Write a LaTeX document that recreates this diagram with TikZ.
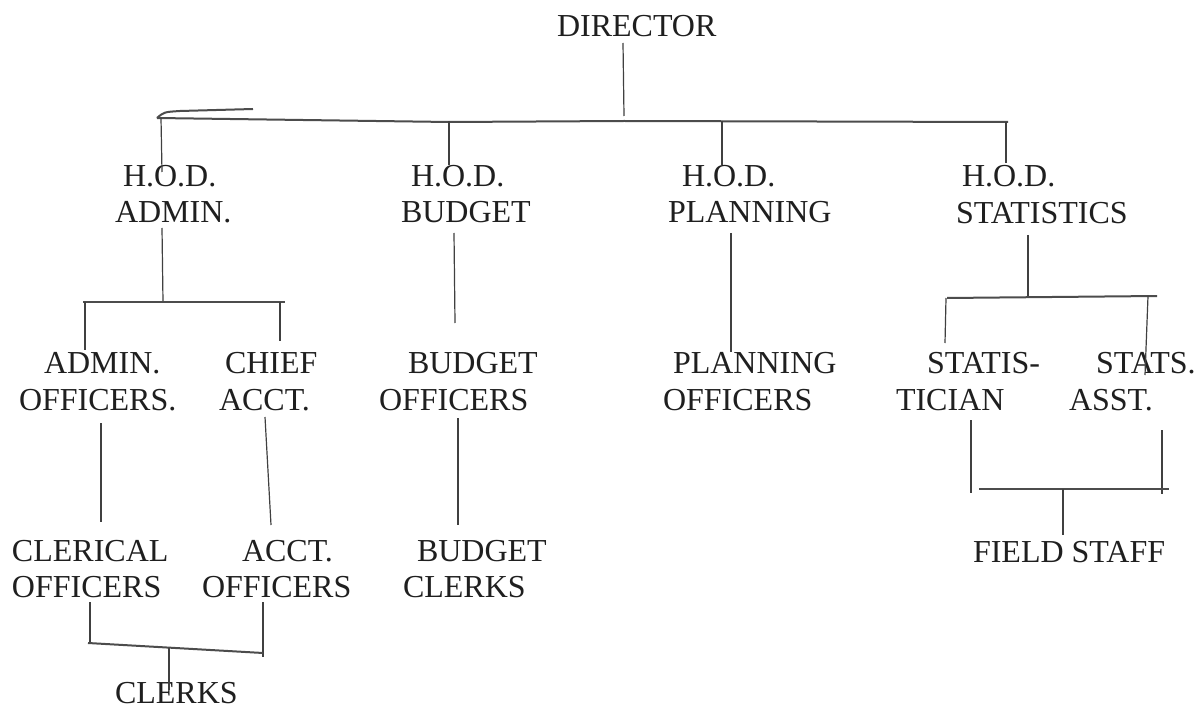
\documentclass[tikz,border=0pt]{standalone}
\usepackage{fontspec}
\setmainfont{Liberation Serif}
\begin{document}
\begin{tikzpicture}[x=1pt,y=-1pt,
  lbl/.style={anchor=base west,inner sep=0pt,outer sep=0pt,font=\fontsize{32}{36}\selectfont,text=black!88},
  vline/.style={draw=black!75,line width=1.2pt},
  hbar/.style={draw=black!70,line width=2pt}]
\useasboundingbox[fill=white] (0,0) rectangle (1204,711);
% texts
\node[lbl] (dir) at (557,37) {DIRECTOR};
\node[lbl] (hadmA) at (123,187) {H.O.D.};
\node[lbl] (hadmB) at (115,223) {ADMIN.};
\node[lbl] (hbudA) at (411,187) {H.O.D.};
\node[lbl] (hbudB) at (401,223) {BUDGET};
\node[lbl] (hplaA) at (682,187) {H.O.D.};
\node[lbl] (hplaB) at (668,223) {PLANNING};
\node[lbl] (hstaA) at (962,187) {H.O.D.};
\node[lbl] (hstaB) at (956,224) {STATISTICS};
\node[lbl] (aoA) at (44,373) {ADMIN.};
\node[lbl] (aoB) at (19,410) {OFFICERS.};
\node[lbl] (caA) at (225,373) {CHIEF};
\node[lbl] (caB) at (219,410) {ACCT.};
\node[lbl] (boA) at (408,373) {BUDGET};
\node[lbl] (boB) at (379,410) {OFFICERS};
\node[lbl] (poA) at (673,373) {PLANNING};
\node[lbl] (poB) at (663,410) {OFFICERS};
\node[lbl] (stA) at (927,373) {STATIS-};
\node[lbl] (stB) at (896,410) {TICIAN};
\node[lbl] (saA) at (1096,373) {STATS.};
\node[lbl] (saB) at (1069,410) {ASST.};
\node[lbl] (coA) at (12,561) {CLERICAL};
\node[lbl] (coB) at (12,597) {OFFICERS};
\node[lbl] (acA) at (242,561) {ACCT.};
\node[lbl] (acB) at (202,597) {OFFICERS};
\node[lbl] (bcA) at (417,561) {BUDGET};
\node[lbl] (bcB) at (403,597) {CLERKS};
\node[lbl] (fs) at (973,562) {FIELD STAFF};
\node[lbl] (clk) at (115,703) {CLERKS};
% junction coordinates
\coordinate (d1) at (623,43);
\coordinate (d2) at (624,116);
\coordinate (tL) at (157,118);
\coordinate (tR) at (1008,122);
\coordinate (v1a) at (161,118); \coordinate (v1b) at (162,172);
\coordinate (v2a) at (449,121); \coordinate (v2b) at (449,165);
\coordinate (v3a) at (722,121); \coordinate (v3b) at (722,165);
\coordinate (v4a) at (1006,122); \coordinate (v4b) at (1006,163);
% admin branch
\coordinate (ad1) at (162,228); \coordinate (ad2) at (163,302);
\coordinate (abL) at (83,302); \coordinate (abR) at (285,302);
\coordinate (ao1) at (85,302); \coordinate (ao2) at (85,350);
\coordinate (ca1) at (280,302); \coordinate (ca2) at (280,341);
\coordinate (ao3) at (101,423); \coordinate (ao4) at (101,522);
\coordinate (ca3) at (265,417); \coordinate (ca4) at (271,525);
\coordinate (co1) at (90,602); \coordinate (co2) at (90,643);
\coordinate (ac1) at (263,602); \coordinate (ac2) at (263,657);
\coordinate (cbL) at (88,643); \coordinate (cbR) at (263,653);
\coordinate (ck1) at (169,648); \coordinate (ck2) at (169,690);
% budget branch
\coordinate (bu1) at (454,233); \coordinate (bu2) at (455,323);
\coordinate (bu3) at (458,418); \coordinate (bu4) at (458,525);
% planning branch
\coordinate (pl1) at (731,233); \coordinate (pl2) at (731,352);
% statistics branch
\coordinate (s1) at (1028,235); \coordinate (s2) at (1028,298);
\coordinate (sbL) at (947,298); \coordinate (sbR) at (1157,296);
\coordinate (sl1) at (946,298); \coordinate (sl2) at (945,343);
\coordinate (sr1) at (1148,296); \coordinate (sr2) at (1145,375);
\coordinate (st1) at (971,420); \coordinate (st2) at (971,493);
\coordinate (sa1) at (1162,430); \coordinate (sa2) at (1162,494);
\coordinate (fbL) at (979,489); \coordinate (fbR) at (1169,489);
\coordinate (f1) at (1063,489); \coordinate (f2) at (1063,535);
% connectors
\draw[vline] (d1) -- (d2);
\draw[hbar] (tL) -- (449,122) -- (624,121) -- (tR);
\draw[hbar] (tL) .. controls (164,112) .. (180,111) -- (253,109);
\draw[vline] (v1a) -- (v1b);
\draw[vline] (v2a) -- (v2b);
\draw[vline] (v3a) -- (v3b);
\draw[vline] (v4a) -- (v4b);
\draw[vline] (ad1) -- (ad2);
\draw[hbar] (abL) -- (abR);
\draw[vline] (ao1) -- (ao2);
\draw[vline] (ca1) -- (ca2);
\draw[vline] (ao3) -- (ao4);
\draw[vline] (ca3) -- (ca4);
\draw[vline] (co1) -- (co2);
\draw[vline] (ac1) -- (ac2);
\draw[hbar] (cbL) -- (cbR);
\draw[vline] (ck1) -- (ck2);
\draw[vline] (bu1) -- (bu2);
\draw[vline] (bu3) -- (bu4);
\draw[vline] (pl1) -- (pl2);
\draw[vline] (s1) -- (s2);
\draw[hbar] (sbL) -- (sbR);
\draw[vline] (sl1) -- (sl2);
\draw[vline] (sr1) -- (sr2);
\draw[vline] (st1) -- (st2);
\draw[vline] (sa1) -- (sa2);
\draw[hbar] (fbL) -- (fbR);
\draw[vline] (f1) -- (f2);
\end{tikzpicture}
\end{document}
